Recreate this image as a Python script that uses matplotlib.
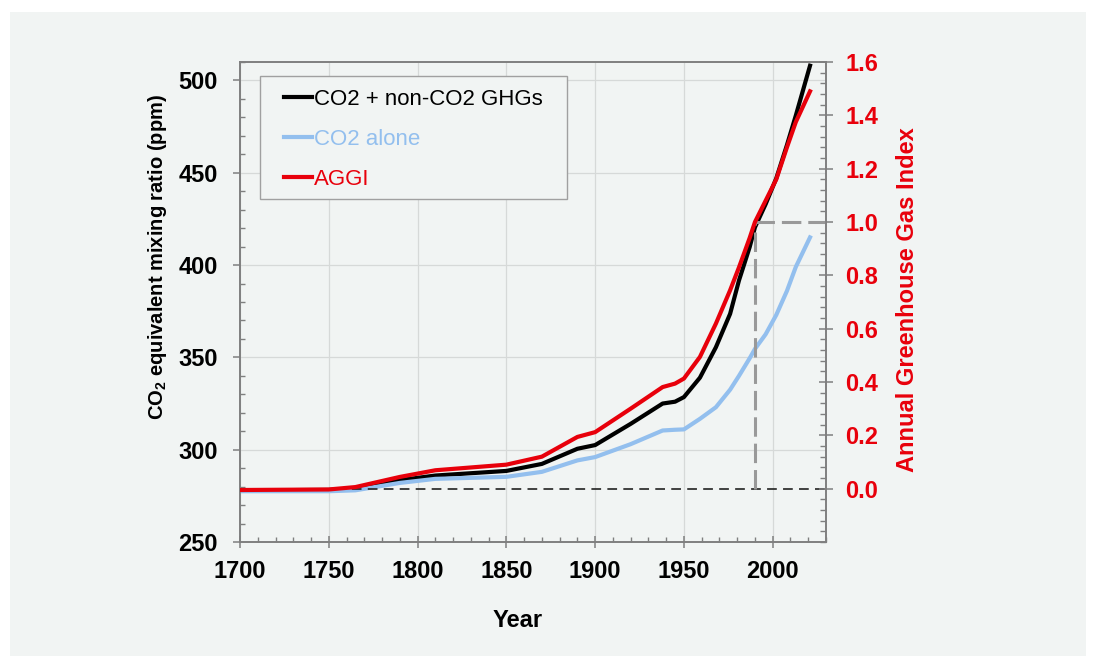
import matplotlib
matplotlib.use("Agg")
import matplotlib.pyplot as plt
from matplotlib.patches import Rectangle
from matplotlib.ticker import MultipleLocator

plt.rcParams['font.family'] = ['Liberation Sans', 'DejaVu Sans']
plt.rcParams['mathtext.fontset'] = 'custom'
plt.rcParams['mathtext.rm'] = 'Liberation Sans:bold'
plt.rcParams['mathtext.it'] = 'Liberation Sans:bold'
plt.rcParams['mathtext.bf'] = 'Liberation Sans:bold'
plt.rcParams['lines.scale_dashes'] = False

# ---- data ----
years = [1700, 1750, 1765, 1790, 1810, 1850, 1870, 1890, 1900, 1920, 1938, 1945,
         1950, 1959, 1968, 1976, 1981, 1987, 1990, 1996, 2002, 2008, 2013, 2021]
co2eq = [278.0, 278.2, 279.0, 283.5, 286.0, 288.5, 292.3, 300.5, 302.5, 314.0, 325.0, 326.0,
         328.5, 339.0, 355.5, 373.6, 391.7, 409.7, 420.5, 433.0, 447.0, 465.0, 481.0, 508.0]
co2 = [277.5, 277.5, 278.0, 282.0, 284.2, 285.3, 288.0, 294.2, 296.0, 303.0, 310.4, 310.8,
       311.0, 316.7, 323.0, 332.5, 340.0, 349.5, 354.6, 362.5, 373.0, 386.0, 399.0, 415.0]
aggi = [-0.005, -0.003, 0.006, 0.044, 0.069, 0.09, 0.12, 0.194, 0.212, 0.300, 0.381, 0.394,
        0.413, 0.494, 0.619, 0.744, 0.83, 0.94, 1.0, 1.08, 1.16, 1.28, 1.375, 1.49]
labels = ["CO2 + non-CO2 GHGs", "CO2 alone", "AGGI"]
ref_year = 1990
ref_index = 1.0

BLACK = "#000000"
BLUE = "#93bfee"
RED = "#e8000b"
BG = "#f1f4f3"
SPINE = "#7f7f7f"

fig = plt.figure(figsize=(10.96, 6.61), dpi=100, facecolor="white")
bgrect = Rectangle((10 / 1096, 1 - 656 / 661), 1076 / 1096, 644 / 661,
                   transform=fig.transFigure, facecolor=BG, edgecolor="none", zorder=-10)
fig.add_artist(bgrect)

ax = fig.add_axes([240 / 1096, 1 - 542 / 661, 586 / 1096, 480 / 661])
ax.set_facecolor(BG)
ax2 = ax.twinx()

ax.set_xlim(1700, 2030)
ax.set_ylim(250, 510)

ax.grid(True, which="major", color="#d6d9d8", lw=0.9)
ax.set_axisbelow(True)

l1, = ax.plot(years, co2eq, color=BLACK, lw=3.0, label=labels[0], zorder=3)
l2, = ax.plot(years, co2, color=BLUE, lw=3.0, label=labels[1], zorder=3)
l3, = ax2.plot(years, aggi, color=RED, lw=3.0, label=labels[2], zorder=3)

# reference dashed lines
ax2.axhline(0, color="#222222", lw=1.2, dashes=(7, 4.5), zorder=1)
ax2.plot([ref_year, ref_year], [0, ref_index], color="#999999", lw=2.2, dashes=(14, 5), zorder=2)
ax2.plot([ref_year, 2030], [ref_index, ref_index], color="#999999", lw=2.2, dashes=(14, 5), zorder=2)

for a in (ax, ax2):
    for s in a.spines.values():
        s.set_color(SPINE)
        s.set_linewidth(1.2)

ax.xaxis.set_major_locator(MultipleLocator(50))
ax.xaxis.set_minor_locator(MultipleLocator(10))
ax.yaxis.set_major_locator(MultipleLocator(50))
ax.yaxis.set_minor_locator(MultipleLocator(10))

ax.tick_params(axis="x", which="major", direction="inout", length=8.5, width=1.1,
               color=SPINE, pad=9, labelsize=17)
ax.tick_params(axis="x", which="minor", direction="in", length=3.6, width=1.0, color=SPINE)
ax.tick_params(axis="y", which="major", direction="out", length=5, width=1.1,
               color=SPINE, pad=11, labelsize=17)
ax.tick_params(axis="y", which="minor", direction="in", length=3.6, width=1.0, color=SPINE)

for t in ax.get_xticklabels() + ax.get_yticklabels():
    t.set_fontweight("bold")

ax2.set_yticks([0.0, 0.2, 0.4, 0.6, 0.8, 1.0, 1.2, 1.4, 1.6])
ax2.set_yticklabels(["0.0", "0.2", "0.4", "0.6", "0.8", "1.0", "1.2", "1.4", "1.6"],
                    fontweight="bold", color=RED, fontsize=17)
ax2.yaxis.set_minor_locator(MultipleLocator(0.04))
ax2.set_ylim(-0.2, 1.6)
ax2.tick_params(axis="y", which="major", direction="inout", length=9.4, width=1.1,
                color=SPINE, pad=9)
ax2.tick_params(axis="y", which="minor", direction="in", length=4.3, width=1.0, color=SPINE)

ax.set_xlabel("Year", fontsize=17, fontweight="bold")
ax.xaxis.set_label_coords(0.473, -0.139)
ax.set_ylabel(r"CO$_2$ equivalent mixing ratio (ppm)", fontsize=14.5, fontweight="bold")
ax.yaxis.set_label_coords(-0.121, 0.594)
ax2.set_ylabel("Annual Greenhouse Gas Index", fontsize=17, fontweight="bold", color=RED)
ax2.yaxis.set_label_coords(1.120, 0.504)

# legend frame drawn separately, entries placed inside it
frame = Rectangle((20 / 586, 343 / 480), 307 / 586, 123 / 480, transform=ax2.transAxes,
                  facecolor=BG, edgecolor="#a0a0a0", lw=1.0, zorder=4)
ax2.add_patch(frame)
leg = ax2.legend(handles=[l1, l2, l3], loc="upper left", bbox_to_anchor=(44 / 586, 453 / 480),
                 fontsize=16, handlelength=1.25, handletextpad=0.08, labelspacing=0.85,
                 borderpad=0, borderaxespad=0, frameon=False,
                 labelcolor="linecolor")
leg.set_zorder(5)

fig.savefig("out.png", dpi=100, facecolor="white")
